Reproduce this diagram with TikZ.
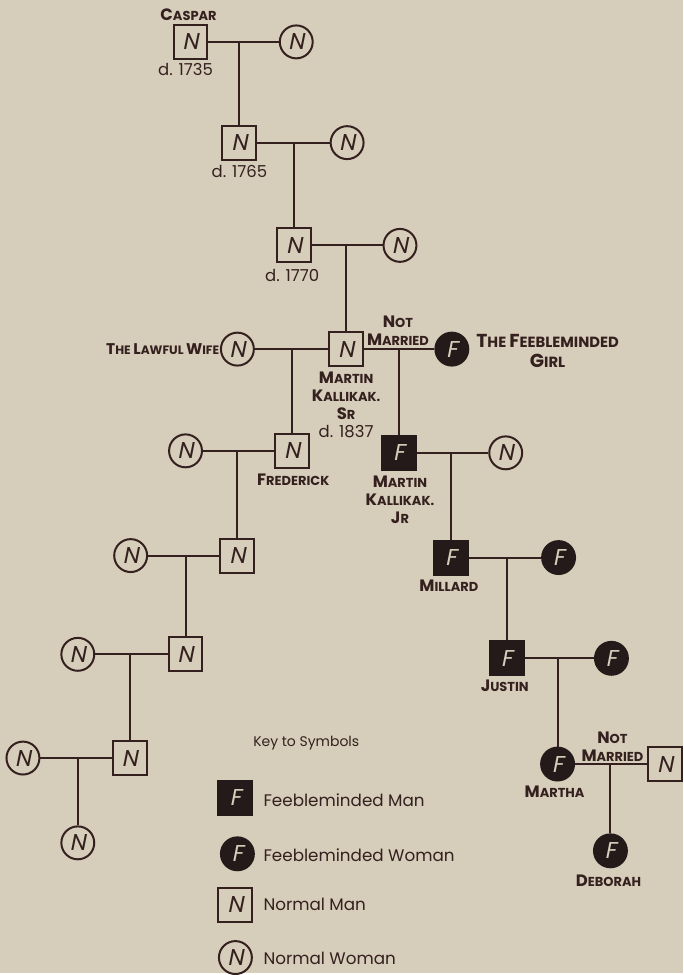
\documentclass[tikz,border=0pt]{standalone}
\usepackage{fontspec}
\setmainfont{Poppins}[AutoFakeSlant=0.2]
\definecolor{paper}{RGB}{214,205,186}
\definecolor{ink}{RGB}{52,32,30}
\definecolor{blot}{RGB}{36,26,26}
\def\capsz{16.5}
\newcommand\Cap[1]{{\fontsize{\capsz}{18}\selectfont #1}}
\newcommand\labelfont{\bfseries\fontsize{13}{18}\selectfont}
\newcommand\symfont{\fontsize{23}{23}\selectfont\itshape}
\tikzset{
  person/.style={draw=ink, line width=2pt, inner sep=0pt, font=\symfont},
  nman/.style={person, rectangle, minimum size=34pt, text=ink},
  nwoman/.style={person, circle, minimum size=33pt, text=ink},
  fman/.style={person, rectangle, minimum size=34pt, draw=blot, fill=blot, text=paper},
  fwoman/.style={person, circle, minimum size=33pt, draw=blot, fill=blot, text=paper},
  tie/.style={draw=ink, line width=2pt},
  namelbl/.style={font=\labelfont, text=ink, align=center, inner sep=0pt},
  datelbl/.style={font=\fontsize{16.5}{18}\selectfont, text=ink, inner sep=0pt},
  keytext/.style={font=\fontsize{16.8}{18}\selectfont, text=ink, anchor=west, inner sep=0pt}
}
\begin{document}
\begin{tikzpicture}[x=1pt, y=-1pt]
\fill[paper] (0,0) rectangle (685,975);

% lawful line
\node[nman] (caspar) at (191,42) {N};
\node[nwoman] (wifeA) at (297,42) {N};
\node[nman] (sonB) at (240,143) {N};
\node[nwoman] (wifeB) at (348,143) {N};
\node[nman] (sonC) at (295,246) {N};
\node[nwoman] (wifeC) at (401,246) {N};
\node[nman] (msr) at (347,350) {N};
\node[nwoman] (lawful) at (238,350) {N};
\node[fwoman] (girl) at (453,350) {F};
\node[nman] (fred) at (293,452) {N};
\node[nwoman] (wifeF) at (186,452) {N};
\node[nman] (lawA) at (238,557) {N};
\node[nwoman] (wifeLA) at (131,557) {N};
\node[nman] (lawB) at (186,656) {N};
\node[nwoman] (wifeLB) at (78,656) {N};
\node[nman] (lawC) at (130,760) {N};
\node[nwoman] (wifeLC) at (23,760) {N};
\node[nwoman] (lawD) at (78,845) {N};

% feebleminded line
\node[fman] (mjr) at (400,454) {F};
\node[nwoman] (wifeJ) at (507,454) {N};
\node[fman] (millard) at (452,559) {F};
\node[fwoman] (wifeM) at (560,559) {F};
\node[fman] (justin) at (508,660) {F};
\node[fwoman] (wifeJu) at (613,660) {F};
\node[fwoman] (martha) at (559,766) {F};
\node[nman] (partner) at (667,766) {N};
\node[fwoman] (deborah) at (612,853) {F};

% marriages and descents
\draw[tie] (caspar) -- (wifeA);
\draw[tie] (sonB) -- (sonB |- caspar);
\draw[tie] (sonB) -- (wifeB);
\draw[tie] (sonC) -- (sonC |- sonB);
\draw[tie] (sonC) -- (wifeC);
\draw[tie] (msr) -- (msr |- sonC);
\draw[tie] (lawful) -- (msr);
\draw[tie] (msr) -- (girl);
\draw[tie] (fred) -- (fred |- msr);
\draw[tie] (mjr) -- (mjr |- msr);
\draw[tie] (wifeF) -- (fred);
\draw[tie] (lawA) -- (lawA |- fred);
\draw[tie] (wifeLA) -- (lawA);
\draw[tie] (lawB) -- (lawB |- lawA);
\draw[tie] (wifeLB) -- (lawB);
\draw[tie] (lawC) -- (lawC |- lawB);
\draw[tie] (wifeLC) -- (lawC);
\draw[tie] (lawD) -- (lawD |- lawC);
\draw[tie] (mjr) -- (wifeJ);
\draw[tie] (millard) -- (millard |- mjr);
\draw[tie] (millard) -- (wifeM);
\draw[tie] (justin) -- (justin |- millard);
\draw[tie] (justin) -- (wifeJu);
\draw[tie] (martha) -- (martha |- justin);
\draw[tie] (martha) -- (partner);
\draw[tie] (deborah) -- (deborah |- martha);

% labels
\node[namelbl] (lblCaspar) at (189,15) {\Cap{C}ASPAR};
\node[datelbl] (dA) at (186,70) {d. 1735};
\node[datelbl] (dB) at (240,172) {d. 1765};
\node[datelbl] (dC) at (293,276) {d. 1770};
\node[namelbl] (nm1) at (399,332) {\Cap{N}OT\\\Cap{M}ARRIED};
\node[namelbl, font={\def\capsz{15.5}\bfseries\fontsize{12.2}{18}\selectfont}, anchor=east] (lblLawful) at (220,350) {\Cap{T}HE \Cap{L}AWFUL \Cap{W}IFE};
\node[namelbl, font={\def\capsz{18.8}\bfseries\fontsize{14.8}{20}\selectfont}] (lblGirl) at (549,352) {\Cap{T}HE \Cap{F}EEBLEMINDED\\\Cap{G}IRL};
\node[namelbl] (lblMsr) at (347,397) {\Cap{M}ARTIN\\\Cap{K}ALLIKAK.\\\Cap{S}R};
\node[datelbl] (dMsr) at (347,433) {d. 1837};
\node[namelbl] (lblFred) at (294,481) {\Cap{F}REDERICK};
\node[namelbl] (lblMjr) at (401,501) {\Cap{M}ARTIN\\\Cap{K}ALLIKAK.\\\Cap{J}R};
\node[namelbl] (lblMillard) at (450,587) {\Cap{M}ILLARD};
\node[namelbl] (lblJustin) at (506,688) {\Cap{J}USTIN};
\node[namelbl] (nm2) at (614,749) {\Cap{N}OT\\\Cap{M}ARRIED};
\node[namelbl] (lblMartha) at (556,794) {\Cap{M}ARTHA};
\node[namelbl] (lblDeborah) at (610,883) {\Cap{D}EBORAH};

% key
\node[font=\fontsize{14}{18}\selectfont, text=ink] (keyTitle) at (307,745) {Key to Symbols};
\node[fman] (keyFM) at (236,800) {F};
\node[fwoman] (keyFW) at (238,856) {F};
\node[nman] (keyNM) at (236,907) {N};
\node[nwoman] (keyNW) at (236,960) {N};
\node[keytext] (txtFM) at (264,802) {Feebleminded Man};
\node[keytext] (txtFW) at (264,857) {Feebleminded Woman};
\node[keytext] (txtNM) at (264,907) {Normal Man};
\node[keytext] (txtNW) at (264,961) {Normal Woman};
\end{tikzpicture}
\end{document}
